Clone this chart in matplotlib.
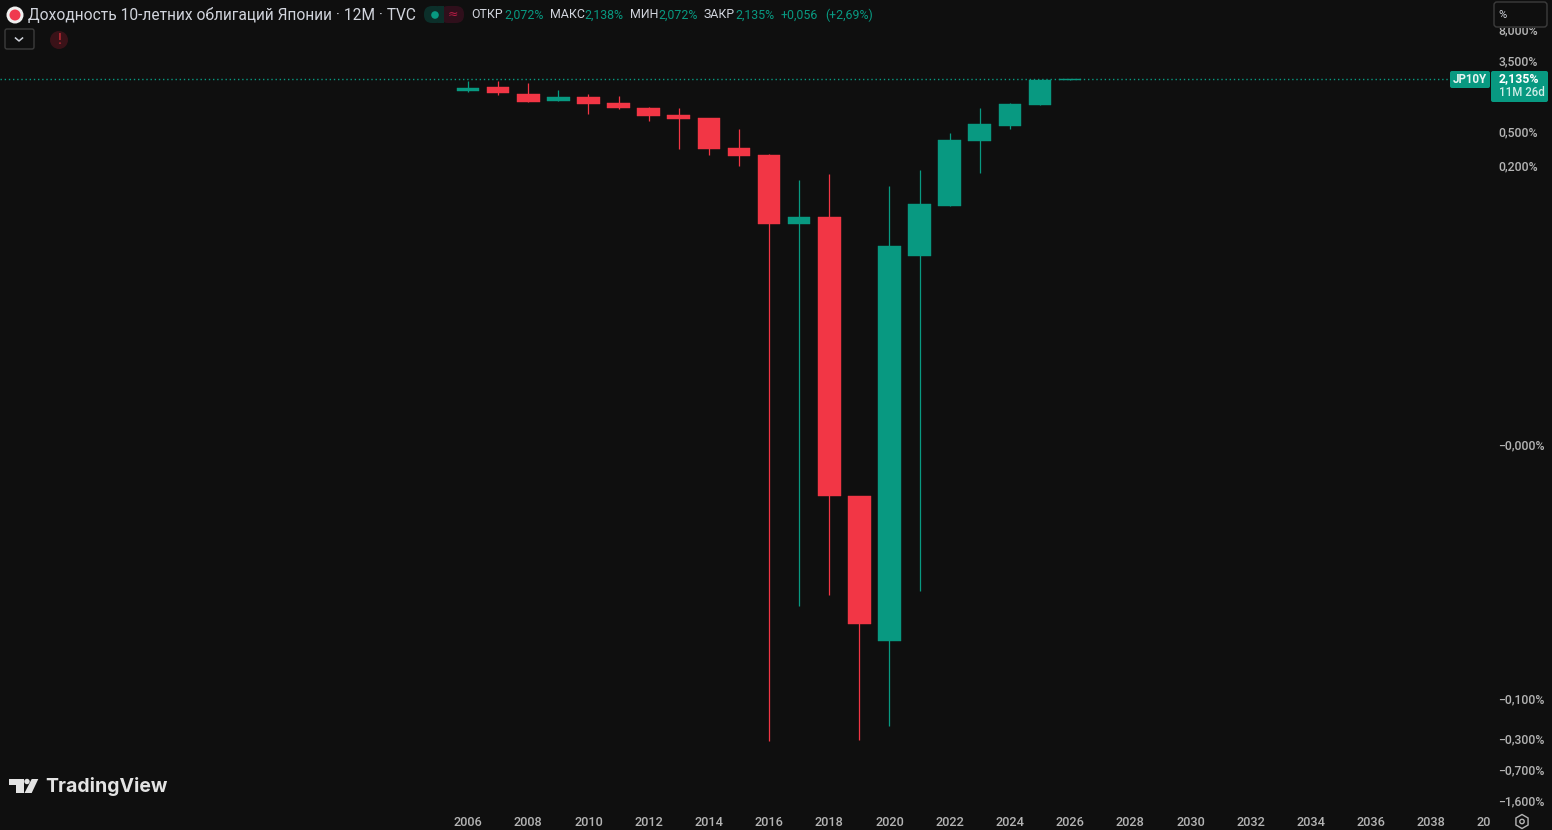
import numpy as np
import matplotlib
matplotlib.use("Agg")
import matplotlib.pyplot as plt
from matplotlib.patches import Circle, FancyBboxPatch, Polygon, Rectangle, RegularPolygon
from matplotlib.ticker import FixedLocator, FixedFormatter
from matplotlib.transforms import Bbox, ScaledTranslation

# ---------------------------------------------------------
# 1. Data (yearly candles, percent)
# ---------------------------------------------------------
years = [2006, 2007, 2008, 2009, 2010, 2011, 2012, 2013, 2014, 2015, 2016,
         2017, 2018, 2019, 2020, 2021, 2022, 2023, 2024, 2025, 2026]
opens = [1.55, 1.726, 1.43, 1.18, 1.315, 1.117, 0.975, 0.807, 0.743, 0.329, 0.272,
         0.0415, 0.0502, -0.0003, -0.0204, 0.0173, 0.0677, 0.397, 0.597, 1.059, 2.072]
closes = [1.68, 1.47, 1.148, 1.315, 1.089, 0.975, 0.785, 0.723, 0.320, 0.264, 0.0415,
          0.0502, -0.0003, -0.0128, 0.0228, 0.0716, 0.408, 0.631, 1.089, 2.072, 2.135]
highs = [2.03, 2.03, 1.93, 1.59, 1.43, 1.35, 1.002, 0.975, 0.743, 0.551, 0.279,
         0.137, 0.162, -0.0003, 0.117, 0.181, 0.494, 0.975, 1.117, 2.09, 2.138]
lows = [1.51, 1.39, 1.148, 1.18, 0.828, 0.948, 0.685, 0.320, 0.272, 0.201, -0.31,
        -0.0078, -0.00575, -0.303, -0.207, -0.00515, 0.0677, 0.166, 0.551, 1.059, 2.072]
last_price = 2.135

y_ticks = [8.0, 3.5, 0.5, 0.2, 0.0, -0.1, -0.3, -0.7, -1.6]
y_labels = ["8,000%", "3,500%", "0,500%", "0,200%", "\u22120,000%", "\u22120,100%",
            "\u22120,300%", "\u22120,700%", "\u22121,600%"]
x_ticks = list(range(2006, 2042, 2))
x_labels = [str(y) for y in x_ticks]

BG = "#0f0f0f"
GREEN = "#089981"
RED = "#f23645"
TXT = "#b4b4b4"
plt.rcParams["font.family"] = ["Roboto", "DejaVu Sans"]

# ---------------------------------------------------------
# 2. TradingView style log scale that also handles negatives
# ---------------------------------------------------------
C = 1e-4


def forward(v):
    v = np.asarray(v, dtype=float)
    return np.sign(v) * np.log10(1 + np.abs(v) / C)


def inverse(f):
    f = np.asarray(f, dtype=float)
    return np.sign(f) * C * (10 ** np.abs(f) - 1)


W, H = 1552, 830
fig = plt.figure(figsize=(W / 100, H / 100), dpi=100, facecolor=BG)
ax = fig.add_axes([0, 20 / H, 1492 / W, 810 / H], facecolor=BG)
ax.set_yscale("function", functions=(forward, inverse))
ax.set_xlim(1990.45, 2040.02)
ax.set_ylim(-2.03, 18.4)

# ---------------------------------------------------------
# 3. Candles
# ---------------------------------------------------------
colors = [GREEN if c >= o else RED for o, c in zip(opens, closes)]
ax.vlines(years, lows, highs, colors=colors, linewidth=0.9, zorder=2)
ax.bar(years, np.array(closes) - np.array(opens), bottom=opens, width=0.75,
       color=colors, edgecolor=colors, linewidth=0.3, zorder=3)
ax.axhline(last_price, color=GREEN, linestyle=(0, (1, 2)), linewidth=1.0, zorder=1)

for s in ax.spines.values():
    s.set_visible(False)
ax.yaxis.tick_right()
ax.yaxis.set_major_locator(FixedLocator(y_ticks))
ax.yaxis.set_major_formatter(FixedFormatter(y_labels))
ax.yaxis.set_minor_locator(FixedLocator([]))
ax.xaxis.set_major_locator(FixedLocator(x_ticks))
ax.xaxis.set_major_formatter(FixedFormatter(x_labels))
ax.tick_params(axis="y", length=0, pad=4.7, labelsize=8.8, labelcolor=TXT)
ax.tick_params(axis="x", length=0, pad=4, labelsize=9.2, labelcolor=TXT)

# nudge the y labels up one pixel, and cut the last year label at the axis edge
nudge = ScaledTranslation(0, 1 / 100, fig.dpi_scale_trans)
for lab in ax.get_yticklabels():
    lab.set_transform(lab.get_transform() + nudge)
    lab.set_fontweight("medium")
for lab in ax.get_xticklabels():
    lab.set_fontweight("medium")
    lab.set_clip_on(True)
    lab.set_clip_box(Bbox([[0, 0], [1490, 30]]))

# ---------------------------------------------------------
# 4. Interface bits drawn in pixel coordinates
# ---------------------------------------------------------
ov = fig.add_axes([0, 0, 1, 1], facecolor="none", zorder=5)
ov.set_xlim(0, W)
ov.set_ylim(H, 0)
ov.axis("off")


def label(x, y, s, color=TXT, size=8.8, **kw):
    kw.setdefault("va", "center")
    kw.setdefault("ha", "left")
    ov.text(x, y, s, color=color, fontsize=size, **kw)


def box(x0, y0, x1, y1, r=2, fc="none", ec="none", lw=1.0):
    ov.add_patch(FancyBboxPatch((x0 + r, y0 + r), x1 - x0 - 2 * r, y1 - y0 - 2 * r,
                                boxstyle=f"round,pad={r},rounding_size={r}",
                                fc=fc, ec=ec, lw=lw))


# title row
ov.add_patch(Circle((15, 15), 8.5, fc="#f0f0f0", ec="none"))
ov.add_patch(Circle((15, 15), 5.5, fc="#f0394f", ec="none"))
label(28, 15, "Доходность 10-летних облигаций Японии · 12M · TVC", "#d1d4dc", 11.2)
box(424, 6, 444, 23, r=8, fc="#0c2f2a")
box(440, 6, 464, 23, r=8, fc="#2f0f1b")
ov.add_patch(Rectangle((438, 6), 6, 17, fc="#0c2f2a", ec="none"))
ov.add_patch(Circle((435, 15), 3.8, fc=GREEN, ec="none"))
label(453, 14.5, "≈", "#b51c45", 9, ha="center", family="DejaVu Sans")

ohlc = [(471, "ОТКР", "#d1d4dc"), (504, "2,072%", GREEN), (550, "МАКС", "#d1d4dc"),
        (584, "2,138%", GREEN), (630, "МИН", "#d1d4dc"), (658, "2,072%", GREEN),
        (704, "ЗАКР", "#d1d4dc"), (735, "2,135%", GREEN), (781, "+0,056", GREEN),
        (825, "(+2,69%)", GREEN)]
for x, s, c in ohlc:
    label(x, 15, s, c, 8.9)

# second row
box(5, 29, 34, 49, r=2, ec="#3c3c3c", lw=1)
ov.plot([15.5, 19, 22.5], [38, 41, 38], color="#d1d4dc", lw=1.1)
ov.add_patch(Circle((59, 40), 9, fc="#3a1218", ec="none"))
label(59, 39.5, "!", "#a5262f", 10, ha="center", fontweight="bold")

# price labels
box(1450, 71, 1490, 88, r=2, fc=GREEN)
label(1470, 79.5, "JP10Y", "#e8f5f2", 8.3, ha="center", fontweight="bold")
box(1491, 71, 1548, 102, r=2, fc=GREEN)
label(1499, 78.5, "2,135%", "#ffffff", 8.8, fontweight="bold")
label(1499, 92.5, "11M 26d", "#cfeee8", 8.3, fontweight="medium")

# percent box, hides the clipped top tick label
ov.add_patch(Rectangle((1491, 0), 61, 28.5, fc=BG, ec="none"))
box(1494, 2, 1547, 27, r=3, fc=BG, ec="#3c3c3c", lw=1)
label(1498, 14.5, "%", "#d1d4dc", 8)

# settings icon
ov.add_patch(RegularPolygon((1522, 821.5), 6, radius=7, fc="none", ec=TXT, lw=1))
ov.add_patch(Circle((1522, 821.5), 2.2, fc="none", ec=TXT, lw=1))

# logo
LOGO = "#e3e3e3"
ov.add_patch(Polygon([(9, 779), (24, 779), (24, 793), (16, 793), (16, 785), (9, 785)],
                     fc=LOGO, ec="none"))
ov.add_patch(Circle((27, 781.5), 2.7, fc=LOGO, ec="none"))
ov.add_patch(Polygon([(31.7, 779), (38.3, 779), (31.7, 793), (24.5, 793)], fc=LOGO, ec="none"))
label(45, 786, "TradingView", LOGO, 14.0, fontweight="bold", family="Inter")

fig.savefig("out.png", dpi=100, facecolor=BG)
